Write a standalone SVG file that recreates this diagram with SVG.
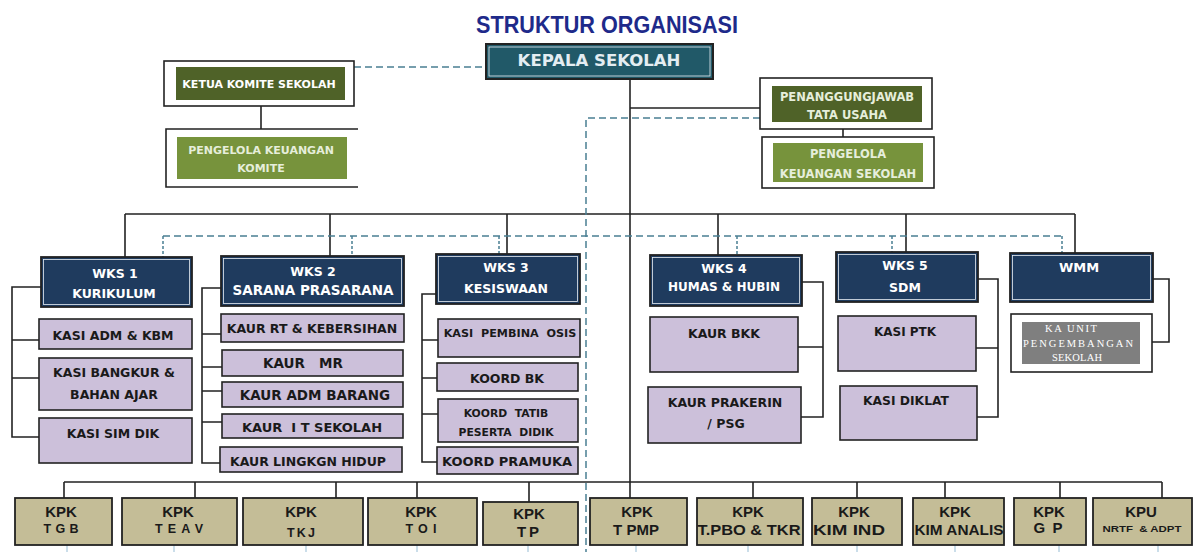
<svg xmlns="http://www.w3.org/2000/svg" width="1195" height="552" viewBox="0 0 1195 552">
<defs>
<style>
.bg{fill:#ffffff}
.ln{fill:none;stroke:#222;stroke-width:1.6}
.dash{fill:none;stroke:#4a7f93;stroke-width:1.5;stroke-dasharray:7 4}
.dsh{fill:none;stroke:#4a7f93;stroke-width:1.5;stroke-dasharray:3 2}
.faint{fill:none;stroke:#a9c8dc;stroke-width:1.2}
.frame{fill:#fff;stroke:#222;stroke-width:1.6}
.teal{fill:#215968;stroke:#222;stroke-width:2}
.navy{fill:#1f3b5e;stroke:#222;stroke-width:1.8}
.inl{fill:none;stroke:#e8eef4;stroke-width:0.8}
.olive{fill:#4f6228}
.olive2{fill:#77933c}
.lav{fill:#ccc0da;stroke:#222;stroke-width:1.6}
.tan{fill:#c4bd97;stroke:#222;stroke-width:1.8}
.gray{fill:#7f7f7f}
.tx{font-family:"DejaVu Sans",sans-serif;font-weight:bold;font-size:12.5px;fill:#1a1a1a;text-anchor:middle}
.w{fill:#ffffff}
.lt{fill:#e6eedb}
.kp{font-family:"Liberation Sans",Arial,sans-serif;font-weight:bold;font-size:15px;fill:#1a1a1a;text-anchor:middle}
.kp2{font-family:"Liberation Sans",Arial,sans-serif;font-weight:bold;font-size:12.5px;fill:#1a1a1a;text-anchor:middle}
.sf{font-family:"Liberation Serif","Times New Roman",serif;font-size:10.5px;fill:#ffffff;text-anchor:middle}
</style>
</defs>
<rect class="bg" x="0" y="0" width="1195" height="552"/>

<g id="connectors">
  <path class="ln" d="M630 79 V498"/>
  <path class="ln" d="M630 108 H760"/>
  <path class="ln" d="M261 106 V129"/>
  <path class="ln" d="M843 129 V137"/>
  <path class="ln" d="M125 214 H1075 M125 214 V257 M330 214 V256 M507 214 V254 M718 214 V255 M906 214 V252 M1075 214 V253"/>
  <path class="ln" d="M41 287 H12 V437 H39 M12 340 H39 M12 378 H39"/>
  <path class="ln" d="M221 288 H202 V463 H220 M202 334 H221 M202 367 H222 M202 391 H222 M202 422 H222"/>
  <path class="ln" d="M436 294 H422 V462 H437 M422 340 H438 M422 378 H437 M422 414 H438"/>
  <path class="ln" d="M802 282 H823 V417 H801 M823 347 H798"/>
  <path class="ln" d="M978 279 H998 V417 H977 M998 348 H976"/>
  <path class="ln" d="M1153 279 H1169 V342 H1152"/>
  <path class="ln" d="M64 482 H1162 M64 482 V498 M195 482 V498 M336 482 V498 M417 482 V498 M529 482 V502 M753 482 V498 M857 482 V498 M945 482 V498 M1060 482 V498 M1162 482 V498"/>
  <path class="dash" d="M354 67 H486"/>
  <path class="dash" d="M760 118 H586 V552"/>
  <path class="dash" d="M163 236 H1062"/>
  <path class="dsh" d="M163 236 V257 M352 236 V256 M499 236 V254 M737 236 V255 M892 236 V252 M1062 236 V253"/>
  <path class="faint" d="M67 545 V552 M174 545 V552 M306 545 V552 M417 545 V552 M528 545 V552 M636 545 V552 M748 545 V552 M857 545 V552 M955 545 V552 M1059 545 V552 M1158 545 V552"/>
</g>

<g id="title">
  <text x="607" y="33" font-family="Liberation Sans, Arial, sans-serif" font-weight="bold" font-size="23" fill="#1e2a8a" text-anchor="middle" textLength="262" lengthAdjust="spacingAndGlyphs">STRUKTUR ORGANISASI</text>
</g>

<g id="kepala-sekolah">
  <rect class="teal" x="486" y="44" width="227" height="35"/>
  <rect class="inl" x="489" y="47" width="221" height="29"/>
  <text class="tx" x="599" y="66" style="fill:#e4edf2;font-size:16.5px">KEPALA  SEKOLAH</text>
</g>

<g id="ketua-komite">
  <rect class="frame" x="164" y="61" width="190" height="45"/>
  <rect class="olive" x="176" y="67" width="169" height="33"/>
  <text class="tx w" x="259" y="88" style="font-size:11px">KETUA KOMITE SEKOLAH</text>
</g>

<g id="pengelola-keuangan-komite">
  <path class="ln" d="M358 129 H166 V187 H358"/>
  <rect class="olive2" x="177" y="137" width="170" height="42"/>
  <text class="tx lt" x="261" y="154" style="font-size:11px">PENGELOLA  KEUANGAN</text>
  <text class="tx lt" x="261" y="172" style="font-size:11px">KOMITE</text>
</g>

<g id="penanggungjawab-tu">
  <rect class="frame" x="760" y="78" width="172" height="51"/>
  <rect class="olive" x="772" y="86" width="150" height="36"/>
  <text class="tx lt" x="847" y="101" style="font-size:11.5px">PENANGGUNGJAWAB</text>
  <text class="tx lt" x="847" y="119" style="font-size:11.5px">TATA  USAHA</text>
</g>

<g id="pengelola-keuangan-sekolah">
  <rect class="frame" x="762" y="137" width="172" height="51"/>
  <rect class="olive2" x="773" y="143" width="150" height="39"/>
  <text class="tx lt" x="848" y="158" style="font-size:11.5px">PENGELOLA</text>
  <text class="tx lt" x="848" y="178" style="font-size:11.5px">KEUANGAN  SEKOLAH</text>
</g>

<g id="wks1">
  <rect class="navy" x="41" y="257" width="151" height="50"/>
  <rect class="inl" x="43.5" y="259.5" width="146" height="45"/>
  <text class="tx w" x="115" y="277.5">WKS 1</text>
  <text class="tx w" x="114" y="298">KURIKULUM</text>
</g>
<g id="wks2">
  <rect class="navy" x="221" y="256" width="183" height="50"/>
  <rect class="inl" x="223.5" y="258.5" width="178" height="45"/>
  <text class="tx w" x="313" y="276">WKS 2</text>
  <text class="tx w" x="313" y="295" style="font-size:13.5px">SARANA PRASARANA</text>
</g>
<g id="wks3">
  <rect class="navy" x="436" y="254" width="144" height="50"/>
  <rect class="inl" x="438.5" y="256.5" width="139" height="45"/>
  <text class="tx w" x="506" y="272">WKS 3</text>
  <text class="tx w" x="506" y="293">KESISWAAN</text>
</g>
<g id="wks4">
  <rect class="navy" x="650" y="255" width="152" height="51"/>
  <rect class="inl" x="652.5" y="257.5" width="147" height="46"/>
  <text class="tx w" x="724" y="273">WKS 4</text>
  <text class="tx w" x="724" y="291" style="font-size:12px">HUMAS &amp; HUBIN</text>
</g>
<g id="wks5">
  <rect class="navy" x="836" y="252" width="142" height="50"/>
  <rect class="inl" x="838.5" y="254.5" width="137" height="45"/>
  <text class="tx w" x="905" y="270">WKS 5</text>
  <text class="tx w" x="905" y="291.5">SDM</text>
</g>
<g id="wmm">
  <rect class="navy" x="1010" y="253" width="143" height="49"/>
  <rect class="inl" x="1012.5" y="255.5" width="138" height="44"/>
  <text class="tx w" x="1079" y="272" style="font-size:13px">WMM</text>
</g>

<g id="kasi-adm-kbm">
  <rect class="lav" x="39" y="319" width="153" height="30"/>
  <text class="tx" x="113" y="339.5">KASI ADM  &amp; KBM</text>
</g>
<g id="kasi-bangkur">
  <rect class="lav" x="39" y="358" width="153" height="52"/>
  <text class="tx" x="114" y="376.5">KASI BANGKUR &amp;</text>
  <text class="tx" x="114" y="398.5">BAHAN AJAR</text>
</g>
<g id="kasi-sim-dik">
  <rect class="lav" x="39" y="418" width="153" height="45"/>
  <text class="tx" x="113" y="437.5">KASI SIM DIK</text>
</g>

<g id="kaur-rt">
  <rect class="lav" x="221" y="314" width="183" height="28"/>
  <text class="tx" x="312" y="332.5">KAUR RT &amp; KEBERSIHAN</text>
</g>
<g id="kaur-mr">
  <rect class="lav" x="222" y="350" width="181" height="26"/>
  <text class="tx" x="303" y="367.5" style="font-size:13.5px" xml:space="preserve">KAUR   MR</text>
</g>
<g id="kaur-adm-barang">
  <rect class="lav" x="222" y="382" width="181" height="25"/>
  <text class="tx" x="315" y="399.5" style="font-size:13.5px">KAUR ADM BARANG</text>
</g>
<g id="kaur-it">
  <rect class="lav" x="222" y="414" width="181" height="24"/>
  <text class="tx" x="312" y="431.5" style="font-size:13px" xml:space="preserve">KAUR  I T SEKOLAH</text>
</g>
<g id="kaur-lingkgn">
  <rect class="lav" x="220" y="447" width="182" height="25"/>
  <text class="tx" x="308" y="465.5">KAUR LINGKGN HIDUP</text>
</g>

<g id="kasi-pembina-osis">
  <rect class="lav" x="438" y="319" width="142" height="38"/>
  <text class="tx" x="510" y="337" style="font-size:11.2px" xml:space="preserve">KASI  PEMBINA  OSIS</text>
</g>
<g id="koord-bk">
  <rect class="lav" x="437" y="363" width="141" height="28"/>
  <text class="tx" x="507" y="382.5">KOORD BK</text>
</g>
<g id="koord-tatib">
  <rect class="lav" x="438" y="399" width="140" height="43"/>
  <text class="tx" x="506" y="417" style="font-size:10.8px" xml:space="preserve">KOORD  TATIB</text>
  <text class="tx" x="506" y="436" style="font-size:10.8px" xml:space="preserve">PESERTA  DIDIK</text>
</g>
<g id="koord-pramuka">
  <rect class="lav" x="437" y="447" width="141" height="27"/>
  <text class="tx" x="507" y="465.5" style="font-size:13px">KOORD PRAMUKA</text>
</g>

<g id="kaur-bkk">
  <rect class="lav" x="650" y="317" width="148" height="55"/>
  <text class="tx" x="724" y="337.5">KAUR BKK</text>
</g>
<g id="kaur-prakerin">
  <rect class="lav" x="648" y="387" width="153" height="56"/>
  <text class="tx" x="725" y="406.5">KAUR PRAKERIN</text>
  <text class="tx" x="726" y="427.5">/ PSG</text>
</g>

<g id="kasi-ptk">
  <rect class="lav" x="838" y="316" width="138" height="55"/>
  <text class="tx" x="905" y="335.5" style="font-size:12px">KASI PTK</text>
</g>
<g id="kasi-diklat">
  <rect class="lav" x="840" y="386" width="137" height="54"/>
  <text class="tx" x="906" y="404.5" style="font-size:12.3px">KASI DIKLAT</text>
</g>

<g id="ka-unit">
  <rect class="frame" x="1011" y="314" width="141" height="58"/>
  <rect class="gray" x="1022" y="322" width="118" height="42"/>
  <text class="sf" x="1071" y="331.5" textLength="52" lengthAdjust="spacing">KA UNIT</text>
  <text class="sf" x="1078" y="346.5" textLength="110" lengthAdjust="spacing">PENGEMBANGAN</text>
  <text class="sf" x="1077" y="360.5" textLength="50" lengthAdjust="spacing">SEKOLAH</text>
</g>

<g id="kpk-tgb">
  <rect class="tan" x="15" y="498" width="97" height="47"/>
  <text class="kp" x="61" y="517">KPK</text>
  <text class="kp2" x="61" y="533" textLength="35" lengthAdjust="spacing">TGB</text>
</g>
<g id="kpk-teav">
  <rect class="tan" x="122" y="498" width="115" height="47"/>
  <text class="kp" x="178" y="517">KPK</text>
  <text class="kp2" x="179" y="533" textLength="48" lengthAdjust="spacing">TEAV</text>
</g>
<g id="kpk-tkj">
  <rect class="tan" x="243" y="498" width="120" height="47"/>
  <text class="kp" x="301" y="517">KPK</text>
  <text class="kp2" x="301" y="537" textLength="28" lengthAdjust="spacing">TKJ</text>
</g>
<g id="kpk-toi">
  <rect class="tan" x="368" y="498" width="109" height="47"/>
  <text class="kp" x="421" y="517">KPK</text>
  <text class="kp2" x="421" y="533" textLength="31" lengthAdjust="spacing">TOI</text>
</g>
<g id="kpk-tp">
  <rect class="tan" x="483" y="502" width="95" height="43"/>
  <text class="kp" x="529" y="519">KPK</text>
  <text class="kp" x="528" y="537" textLength="22" lengthAdjust="spacing">TP</text>
</g>
<g id="kpk-tpmp">
  <rect class="tan" x="590" y="498" width="97" height="47"/>
  <text class="kp" x="637" y="517">KPK</text>
  <text class="kp" x="636" y="535">T PMP</text>
</g>
<g id="kpk-tpbo">
  <rect class="tan" x="697" y="498" width="106" height="47"/>
  <text class="kp" x="748" y="517">KPK</text>
  <text class="kp" x="749" y="535" textLength="103" lengthAdjust="spacingAndGlyphs">T.PBO &amp; TKR</text>
</g>
<g id="kpk-kimind">
  <rect class="tan" x="812" y="498" width="90" height="47"/>
  <text class="kp" x="854" y="517">KPK</text>
  <text class="kp" x="849" y="535" textLength="72" lengthAdjust="spacingAndGlyphs">KIM IND</text>
</g>
<g id="kpk-kimanalis">
  <rect class="tan" x="913" y="498" width="91" height="47"/>
  <text class="kp" x="955" y="517">KPK</text>
  <text class="kp" x="959" y="535" textLength="89" lengthAdjust="spacingAndGlyphs">KIM ANALIS</text>
</g>
<g id="kpk-gp">
  <rect class="tan" x="1014" y="498" width="72" height="47"/>
  <text class="kp" x="1049" y="517">KPK</text>
  <text class="kp" x="1048" y="533" textLength="29" lengthAdjust="spacing">GP</text>
</g>
<g id="kpu">
  <rect class="tan" x="1093" y="498" width="99" height="47"/>
  <text class="kp" x="1141" y="517">KPU</text>
  <text class="kp2" x="1142" y="532" style="font-size:9.5px" textLength="79" lengthAdjust="spacingAndGlyphs" xml:space="preserve">NRTF  &amp; ADPT</text>
</g>
</svg>
